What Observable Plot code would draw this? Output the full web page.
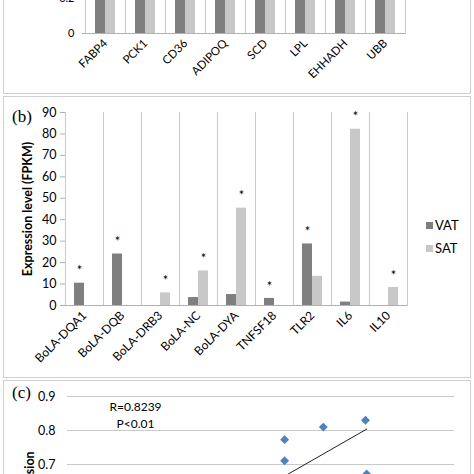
<!DOCTYPE html>
<html>
<head>
<meta charset="utf-8">
<script src="https://cdn.jsdelivr.net/npm/d3@7"></script>
<script src="https://cdn.jsdelivr.net/npm/@observablehq/plot@0.6"></script>
<style>
  html, body { margin: 0; padding: 0; background: #fff; }
  #fig { position: relative; width: 474px; height: 474px; overflow: hidden; background: #fff; font-family: Lato, "Open Sans", sans-serif; }
  .box { position: absolute; border: 1px solid #cfcfcf; box-sizing: border-box; }
  .abs { position: absolute; left: 0; }
  .plab { position: absolute; font-family: "Liberation Serif", "DejaVu Serif", serif; font-size: 17px; color: #000; line-height: 1; }
  .leg { position: absolute; left: 426px; font-size: 13px; color: #000; display: flex; align-items: center; height: 14px; }
  .leg span.sw { display: inline-block; width: 7px; height: 7px; margin-right: 2px; }
  svg [aria-label="y-axis label"] { font-weight: bold; }
</style>
</head>
<body>
<div id="fig">
  <div class="box" style="left:3px; top:-20px; width:468px; height:114px;"></div>
  <div class="box" style="left:3px; top:96px; width:468px; height:282px;"></div>
  <div class="box" style="left:3px; top:380px; width:468px; height:120px;"></div>
  <div id="pa" class="abs" style="top:-20px;"></div>
  <div id="pb" class="abs" style="top:96px;"></div>
  <div id="pc" class="abs" style="top:380px;"></div>
  <div class="plab" style="left:12px; top:108px;">(b)</div>
  <div class="plab" style="left:12px; top:384px;">(c)</div>
  <div id="legend"></div>
</div>
<script>
// ---------- data ----------
const series = ["VAT", "SAT"];
const seriesColors = ["#7f7f7f", "#c8c8c8"];

// panel (a) – bars run past the top of the visible crop
const genesA = ["FABP4", "PCK1", "CD36", "ADIPOQ", "SCD", "LPL", "EHHADH", "UBB"];
const vatA = [1, 1, 1, 1, 1, 1, 1, 1];
const satA = [1, 1, 1, 1, 1, 1, 1, 1];
const ticksA = [0, 0.2];

// panel (b)
const genesB = ["BoLA-DQA1", "BoLA-DQB", "BoLA-DRB3", "BoLA-NC", "BoLA-DYA", "TNFSF18", "TLR2", "IL6", "IL10"];
const vatB = [10.4, 24.0, 0, 3.7, 5.1, 3.3, 28.7, 1.6, 0];
const satB = [0, 0, 5.9, 16.1, 45.4, 0, 13.6, 82.2, 8.4];
const sigB = ["VAT", "VAT", "SAT", "SAT", "SAT", "VAT", "VAT", "SAT", "SAT"];
const ticksB = [0, 10, 20, 30, 40, 50, 60, 70, 80, 90];
const yLabelB = "Expression level (FPKM)";

// panel (c)
const scatterX = [0.561, 0.561, 0.661, 0.770, 0.773, 0.620];
const scatterY = [0.773, 0.711, 0.810, 0.830, 0.672, 0.659];
const trendX = [0.50, 0.773];
const trendY = [0.626, 0.804];
const ticksC = [0.4, 0.5, 0.6, 0.7, 0.8, 0.9];
const statText = "R=0.8239\nP<0.01";
const yLabelC = "Expression";

// ---------- helpers ----------
const font = "Lato, 'Open Sans', sans-serif";
const gridColor = "#c9c9c9";
const axisColor = "#b0b0b0";
const color = {domain: series, range: seriesColors};
const toRows = (genes, a, b) => genes.flatMap((g, i) => [
  {gene: g, series: "VAT", value: a[i]},
  {gene: g, series: "SAT", value: b[i]}
]);

// ---------- panel (a) ----------
const rowsA = toRows(genesA, vatA, satA);
const plotA = Plot.plot({
  width: 474, height: 113,
  marginTop: 18, marginBottom: 60, marginLeft: 82, marginRight: 67,
  style: {fontFamily: font, fontSize: "11.5px", color: "#000", background: "transparent"},
  fx: {domain: genesA, padding: 0, label: null},
  x: {domain: series, paddingInner: 0, paddingOuter: 0.9, axis: null},
  y: {domain: [0, 0.2]},
  color,
  marks: [
    Plot.barY(rowsA, {fx: "gene", x: "series", y: "value", fill: "series", clip: true}),
    Plot.frame({anchor: "left", stroke: gridColor}),
    Plot.frame({anchor: "right", stroke: gridColor}),
    Plot.ruleY([0], {stroke: axisColor}),
    Plot.axisY({ticks: ticksA, tickFormat: d => `${d}`, tickSize: 3, tickPadding: 8, stroke: axisColor, label: null, fontSize: 11}),
    Plot.axisFx({anchor: "bottom", tickRotate: -45, tickSize: 0, tickPadding: 8, label: null})
  ]
});
document.getElementById("pa").append(plotA);

// ---------- panel (b) ----------
const rowsB = toRows(genesB, vatB, satB);
const starsB = genesB.map((g, i) => ({gene: g, series: sigB[i], value: sigB[i] === "VAT" ? vatB[i] : satB[i]}));
const plotB = Plot.plot({
  width: 474, height: 281,
  marginTop: 16, marginBottom: 72, marginLeft: 64, marginRight: 67,
  style: {fontFamily: font, fontSize: "12px", color: "#000", background: "transparent"},
  fx: {domain: genesB, padding: 0, label: null},
  x: {domain: series, paddingInner: 0, paddingOuter: 0.73, axis: null},
  y: {domain: [0, 90]},
  color,
  marks: [
    Plot.frame({anchor: "left", stroke: gridColor}),
    Plot.frame({anchor: "right", stroke: gridColor}),
    Plot.barY(rowsB, {fx: "gene", x: "series", y: "value", fill: "series"}),
    Plot.ruleY([0], {stroke: axisColor}),
    Plot.text(starsB, {fx: "gene", x: "series", y: "value", text: () => "*", dy: -12, fontSize: 13}),
    Plot.axisY({ticks: ticksB, tickSize: 5, tickPadding: 4, stroke: axisColor, fontSize: 12.5,
      label: yLabelB, labelAnchor: "center", labelArrow: "none", labelOffset: 42}),
    Plot.axisFx({anchor: "bottom", tickRotate: -45, tickSize: 0, tickPadding: 8, label: null})
  ]
});
document.getElementById("pb").append(plotB);

// legend (b)
const legend = document.getElementById("legend");
[[series[0], seriesColors[0], 218], [series[1], seriesColors[1], 241]].forEach(([name, c, top]) => {
  const d = document.createElement("div");
  d.className = "leg";
  d.style.top = top + "px";
  d.innerHTML = `<span class="sw" style="background:${c}"></span><span>${name}</span>`;
  legend.append(d);
});

// ---------- panel (c) ----------
const pts = scatterX.map((x, i) => ({x, y: scatterY[i]}));
const trend = trendX.map((x, i) => ({x, y: trendY[i]}));
const plotC = Plot.plot({
  width: 474, height: 216,
  marginTop: 16, marginBottom: 30, marginLeft: 67, marginRight: 20,
  style: {fontFamily: font, fontSize: "12px", color: "#000", background: "transparent"},
  x: {domain: [0, 1], axis: null},
  y: {domain: [0.4, 0.9]},
  marks: [
    Plot.gridY(ticksC, {stroke: gridColor, strokeOpacity: 1}),
    Plot.line(trend, {x: "x", y: "y", stroke: "#222", strokeWidth: 1}),
    Plot.dot(pts, {x: "x", y: "y", symbol: "diamond2", fill: "#4f81bd", stroke: "none", r: 4}),
    Plot.text([statText], {frameAnchor: "top-left", dx: 68, dy: 3, lineAnchor: "top", lineHeight: 1.4, textAnchor: "middle", fontSize: 12}),
    Plot.axisY({ticks: ticksC, tickFormat: d => `${d}`, tickSize: 0, tickPadding: 12, fontSize: 12.5,
      label: yLabelC, labelAnchor: "center", labelArrow: "none", labelOffset: 42})
  ]
});
document.getElementById("pc").append(plotC);
</script>
</body>
</html>
